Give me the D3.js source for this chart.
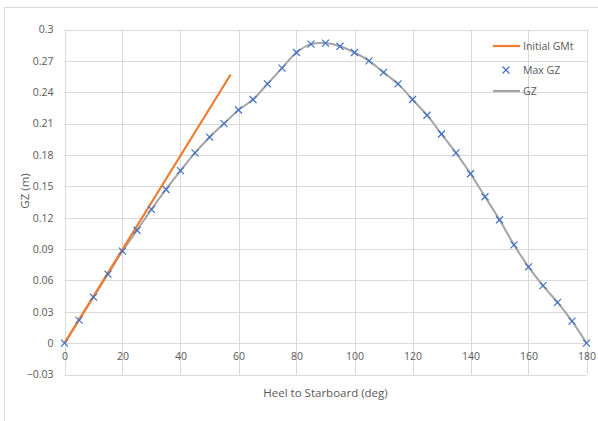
<!DOCTYPE html>
<html>
<head>
<meta charset="utf-8">
<script src="https://cdn.jsdelivr.net/npm/d3@7"></script>
<style>
  body { margin: 0; background: #fff; }
  text { font-family: "Open Sans", "Noto Sans", sans-serif; fill: #595959; }
</style>
</head>
<body>
<svg id="chart" width="598" height="421"></svg>
<script>
// heel angles (deg) and righting arm GZ (m)
var heel = [0, 5, 10, 15, 20, 25, 30, 35, 40, 45, 50, 55, 60, 65, 70, 75, 80, 85, 90,
            95, 100, 105, 110, 115, 120, 125, 130, 135, 140, 145, 150, 155, 160, 165, 170, 175, 180];
var gz = [0, 0.022, 0.044, 0.066, 0.088, 0.108, 0.128, 0.147, 0.165, 0.182, 0.197, 0.210, 0.223, 0.233, 0.248, 0.263, 0.278, 0.286, 0.287,
          0.284, 0.278, 0.270, 0.259, 0.248, 0.233, 0.218, 0.200, 0.182, 0.162, 0.140, 0.118, 0.094, 0.073, 0.055, 0.039, 0.021, 0];
// initial GMt line: 0 to 1 rad (57.3 deg)
var gmHeel = [0, 57.3];
var gmValue = [0, 0.257];

var xTicks = [0, 20, 40, 60, 80, 100, 120, 140, 160, 180];
var yTicks = [-0.03, 0, 0.03, 0.06, 0.09, 0.12, 0.15, 0.18, 0.21, 0.24, 0.27, 0.3];
var seriesNames = ["Initial GMt", "Max GZ", "GZ"];

var svg = d3.select("#chart");

// outer chart frame
svg.append("rect")
    .attr("x", 4.5).attr("y", 7.5)
    .attr("width", 620).attr("height", 440)
    .attr("fill", "none").attr("stroke", "#d9d9d9");

var x = d3.scaleLinear().domain([0, 180]).range([64.5, 586.5]);
var y = d3.scaleLinear().domain([-0.03, 0.3]).range([374.5, 29.5]);

// grid
svg.append("g").selectAll("line")
    .data(yTicks).enter().append("line")
    .attr("x1", x(0)).attr("x2", x(180))
    .attr("y1", function (d) { return Math.round(y(d)) + 0.5; })
    .attr("y2", function (d) { return Math.round(y(d)) + 0.5; })
    .attr("stroke", "#d9d9d9").attr("stroke-width", 1);

svg.append("g").selectAll("line")
    .data(xTicks).enter().append("line")
    .attr("y1", y(-0.03)).attr("y2", y(0.3))
    .attr("x1", function (d) { return Math.round(x(d)) + 0.5; })
    .attr("x2", function (d) { return Math.round(x(d)) + 0.5; })
    .attr("stroke", "#d9d9d9").attr("stroke-width", 1);

// y labels
var yAxis = d3.axisLeft(y).tickValues(yTicks).tickSize(0).tickPadding(11)
    .tickFormat(function (d) { return d3.format("")(+d.toFixed(2)); });
var gy = svg.append("g").attr("transform", "translate(" + x(0) + ",0)").call(yAxis);
gy.select(".domain").remove();
gy.selectAll("text").style("font-size", "10.5px").attr("fill", "#595959");

// x labels sit just under the zero line
var xAxis = d3.axisBottom(x).tickValues(xTicks).tickSize(0).tickPadding(9);
var gx = svg.append("g").attr("transform", "translate(0," + y(0) + ")").call(xAxis);
gx.select(".domain").remove();
gx.selectAll("text").style("font-size", "10.5px").attr("fill", "#595959");

// axis titles
svg.append("text")
    .attr("transform", "translate(29,191) rotate(-90)")
    .attr("text-anchor", "middle")
    .style("font-size", "11.5px")
    .text("GZ (m)");

svg.append("text")
    .attr("x", (x(0) + x(180)) / 2).attr("y", 397)
    .attr("text-anchor", "middle")
    .style("font-size", "11.5px")
    .text("Heel to Starboard (deg)");

// GZ smoothed curve
var gzData = heel.map(function (h, i) { return [h, gz[i]]; });
var line = d3.line()
    .x(function (d) { return x(d[0]); })
    .y(function (d) { return y(d[1]); })
    .curve(d3.curveCatmullRom.alpha(0.5));

svg.append("path")
    .datum(gzData)
    .attr("d", line)
    .attr("fill", "none")
    .attr("stroke", "#a5a5a5")
    .attr("stroke-width", 2);

// initial GMt
svg.append("path")
    .datum(gmHeel.map(function (h, i) { return [h, gmValue[i]]; }))
    .attr("d", d3.line().x(function (d) { return x(d[0]); }).y(function (d) { return y(d[1]); }))
    .attr("fill", "none")
    .attr("stroke", "#ed7d31")
    .attr("stroke-width", 2.2);

// Max GZ markers (x)
function cross(sel, s) {
    sel.append("line").attr("x1", -s).attr("y1", -s).attr("x2", s).attr("y2", s);
    sel.append("line").attr("x1", -s).attr("y1", s).attr("x2", s).attr("y2", -s);
}
svg.append("g").selectAll("g")
    .data(gzData).enter().append("g")
    .attr("transform", function (d) { return "translate(" + x(d[0]) + "," + y(d[1]) + ")"; })
    .attr("stroke", "#4472c4").attr("stroke-width", 1.2)
    .each(function () { cross(d3.select(this), 3.5); });

// legend
var legend = svg.append("g");
var ly = [46, 70, 91];
var colors = ["#ed7d31", "#4472c4", "#a5a5a5"];
seriesNames.forEach(function (name, i) {
    if (i === 1) {
        var g = legend.append("g")
            .attr("transform", "translate(506," + ly[i] + ")")
            .attr("stroke", colors[i]).attr("stroke-width", 1.2);
        cross(g, 3.5);
    } else {
        legend.append("line")
            .attr("x1", 493).attr("x2", 520)
            .attr("y1", ly[i]).attr("y2", ly[i])
            .attr("stroke", colors[i]).attr("stroke-width", 2.2);
    }
    legend.append("text")
        .attr("x", 523).attr("y", ly[i]).attr("dy", "0.35em")
        .style("font-size", "10.5px")
        .text(name);
});
</script>
</body>
</html>
